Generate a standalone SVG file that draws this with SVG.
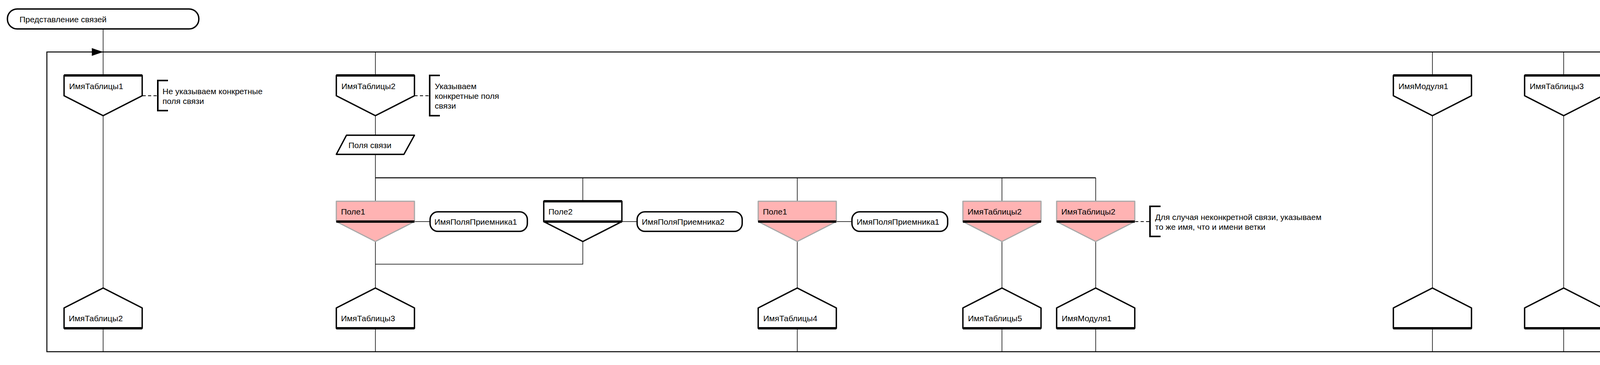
<svg xmlns="http://www.w3.org/2000/svg" width="4795" height="934" viewBox="0 0 4795 934">
<style>
.t{font-family:"Liberation Sans",Arial,sans-serif;font-size:21px;fill:#000}
.node{fill:#fff;stroke:#000;stroke-width:3.5;stroke-linejoin:round}
.pink{fill:#FFB3B3;stroke:#A8A8A8;stroke-width:3;stroke-linejoin:round}
.heavy{stroke:#000;stroke-width:6;fill:none}
.ln{stroke:#000;stroke-width:1.5;fill:none}
.bus{stroke:#000;stroke-width:2.5;fill:none}
.dash{stroke:#000;stroke-width:2;stroke-dasharray:8 6;fill:none}
.br{fill:none;stroke:#000;stroke-width:4}
.pill{fill:#fff;stroke:#000;stroke-width:3.5}
</style>
<rect width="4795" height="934" fill="#fff"/>

<g id="connectors">
  <path class="bus" d="M4675,900 H120 V133 H4675"/>
  <polygon points="235,123 264,133 235,143" fill="#000"/>
  <path class="bus" d="M961,455 H2805"/>
  <path class="ln" d="M264,74 V193 M264,296 V737 M264,840 V900"/>
  <path class="ln" d="M961,133 V193 M961,296 V346 M961,395 V515 M961,618 V737 M961,840 V900"/>
  <path class="ln" d="M1492,455 V515 M1492,618 V676 H961"/>
  <path class="ln" d="M2041,455 V515 M2041,618 V737 M2041,840 V900"/>
  <path class="ln" d="M2565,455 V515 M2565,618 V737 M2565,840 V900"/>
  <path class="ln" d="M2805,455 V515 M2805,618 V737 M2805,840 V900"/>
  <path class="ln" d="M3667,133 V193 M3667,296 V737 M3667,840 V900"/>
  <path class="ln" d="M4003,133 V193 M4003,296 V737 M4003,840 V900"/>
  <path class="ln" d="M4339,133 V193 M4339,296 V737 M4339,840 V900"/>
  <path class="ln" d="M4675,133 V193 M4675,296 V737 M4675,840 V900"/>
  <path class="ln" d="M1061,567 H1101 M1592,567 H1631 M2141,567 H2181"/>
  <path class="dash" d="M365,245 H404 M1061,245 H1100 M2906,567 H2944"/>
</g>

<g id="title">
  <rect x="19" y="23" width="490" height="51" rx="25" class="pill"/>
  <text class="t" x="50" y="57">Представление связей</text>
</g>

<g id="t1">
  <polygon class="node" points="164,193 364,193 364,245 264,296 164,245"/>
  <line class="heavy" x1="164" y1="193" x2="364" y2="193"/>
  <text class="t" x="177" y="228">ИмяТаблицы1</text>
</g>
<g id="c1">
  <path class="br" d="M430,206 H404 V283 H430"/>
  <text class="t" x="416" y="241">Не указываем конкретные</text>
  <text class="t" x="416" y="266">поля связи</text>
</g>

<g id="t2">
  <polygon class="node" points="861,193 1061,193 1061,245 961,296 861,245"/>
  <line class="heavy" x1="861" y1="193" x2="1061" y2="193"/>
  <text class="t" x="874" y="228">ИмяТаблицы2</text>
</g>
<g id="c2">
  <path class="br" d="M1126,193 H1100 V296 H1126"/>
  <text class="t" x="1113" y="228">Указываем</text>
  <text class="t" x="1113" y="253">конкретные поля</text>
  <text class="t" x="1113" y="278">связи</text>
</g>

<g id="fields">
  <polygon class="node" points="887,346 1061,346 1034,395 861,395"/>
  <text class="t" x="892" y="379">Поля связи</text>
</g>

<g id="f1">
  <polygon class="pink" points="861,515 1061,515 1061,567 961,618 861,567"/>
  <line class="heavy" x1="861" y1="567" x2="1061" y2="567"/>
  <text class="t" x="873" y="549">Поле1</text>
</g>
<g id="p1">
  <rect class="pill" x="1101" y="542" width="249" height="50" rx="20"/>
  <text class="t" x="1112" y="575">ИмяПоляПриемника1</text>
</g>

<g id="f2">
  <polygon class="node" points="1392,515 1592,515 1592,567 1492,618 1392,567"/>
  <line class="heavy" x1="1392" y1="515" x2="1592" y2="515"/>
  <line class="heavy" x1="1392" y1="567" x2="1592" y2="567"/>
  <text class="t" x="1404" y="549">Поле2</text>
</g>
<g id="p2">
  <rect class="pill" x="1631" y="542" width="269" height="50" rx="20"/>
  <text class="t" x="1643" y="575">ИмяПоляПриемника2</text>
</g>

<g id="f3">
  <polygon class="pink" points="1941,515 2141,515 2141,567 2041,618 1941,567"/>
  <line class="heavy" x1="1941" y1="567" x2="2141" y2="567"/>
  <text class="t" x="1953" y="549">Поле1</text>
</g>
<g id="p3">
  <rect class="pill" x="2181" y="542" width="245" height="50" rx="20"/>
  <text class="t" x="2193" y="575">ИмяПоляПриемника1</text>
</g>

<g id="f4">
  <polygon class="pink" points="2465,515 2665,515 2665,567 2565,618 2465,567"/>
  <line class="heavy" x1="2465" y1="567" x2="2665" y2="567"/>
  <text class="t" x="2477" y="549">ИмяТаблицы2</text>
</g>
<g id="f5">
  <polygon class="pink" points="2705,515 2905,515 2905,567 2805,618 2705,567"/>
  <line class="heavy" x1="2705" y1="567" x2="2905" y2="567"/>
  <text class="t" x="2717" y="549">ИмяТаблицы2</text>
</g>
<g id="c3">
  <path class="br" d="M2971,528 H2944 V605 H2971"/>
  <text class="t" x="2957" y="563">Для случая неконкретной связи, указываем</text>
  <text class="t" x="2957" y="588">то же имя, что и имени ветки</text>
</g>

<g id="b1">
  <polygon class="node" points="264,737 364,788 364,840 164,840 164,788"/>
  <line class="heavy" x1="164" y1="840" x2="364" y2="840"/>
  <text class="t" x="176" y="822">ИмяТаблицы2</text>
</g>
<g id="b2">
  <polygon class="node" points="961,737 1061,788 1061,840 861,840 861,788"/>
  <line class="heavy" x1="861" y1="840" x2="1061" y2="840"/>
  <text class="t" x="873" y="822">ИмяТаблицы3</text>
</g>
<g id="b3">
  <polygon class="node" points="2041,737 2141,788 2141,840 1941,840 1941,788"/>
  <line class="heavy" x1="1941" y1="840" x2="2141" y2="840"/>
  <text class="t" x="1954" y="822">ИмяТаблицы4</text>
</g>
<g id="b4">
  <polygon class="node" points="2565,737 2665,788 2665,840 2465,840 2465,788"/>
  <line class="heavy" x1="2465" y1="840" x2="2665" y2="840"/>
  <text class="t" x="2478" y="822">ИмяТаблицы5</text>
</g>
<g id="b5">
  <polygon class="node" points="2805,737 2905,788 2905,840 2705,840 2705,788"/>
  <line class="heavy" x1="2705" y1="840" x2="2905" y2="840"/>
  <text class="t" x="2718" y="822">ИмяМодуля1</text>
</g>

<g id="t3">
  <polygon class="node" points="3567,193 3767,193 3767,245 3667,296 3567,245"/>
  <line class="heavy" x1="3567" y1="193" x2="3767" y2="193"/>
  <text class="t" x="3580" y="228">ИмяМодуля1</text>
</g>
<g id="t4">
  <polygon class="node" points="3903,193 4103,193 4103,245 4003,296 3903,245"/>
  <line class="heavy" x1="3903" y1="193" x2="4103" y2="193"/>
  <text class="t" x="3916" y="228">ИмяТаблицы3</text>
</g>
<g id="t5">
  <polygon class="node" points="4239,193 4439,193 4439,245 4339,296 4239,245"/>
  <line class="heavy" x1="4239" y1="193" x2="4439" y2="193"/>
  <text class="t" x="4252" y="228">ИмяТаблицы4</text>
</g>
<g id="t6">
  <polygon class="node" points="4575,193 4775,193 4775,245 4675,296 4575,245"/>
  <line class="heavy" x1="4575" y1="193" x2="4775" y2="193"/>
  <text class="t" x="4588" y="228">ИмяТаблицы5</text>
</g>

<g id="b6">
  <polygon class="node" points="3667,737 3767,788 3767,840 3567,840 3567,788"/>
  <line class="heavy" x1="3567" y1="840" x2="3767" y2="840"/>
</g>
<g id="b7">
  <polygon class="node" points="4003,737 4103,788 4103,840 3903,840 3903,788"/>
  <line class="heavy" x1="3903" y1="840" x2="4103" y2="840"/>
</g>
<g id="b8">
  <polygon class="node" points="4339,737 4439,788 4439,840 4239,840 4239,788"/>
  <line class="heavy" x1="4239" y1="840" x2="4439" y2="840"/>
</g>
<g id="b9">
  <polygon class="node" points="4675,737 4775,788 4775,840 4575,840 4575,788"/>
  <line class="heavy" x1="4575" y1="840" x2="4775" y2="840"/>
</g>
</svg>
